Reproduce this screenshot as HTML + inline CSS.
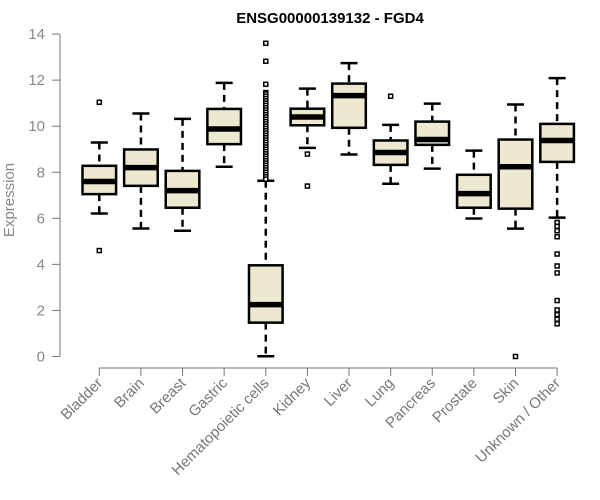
<!DOCTYPE html>
<html><head><meta charset="utf-8"><style>
body{margin:0;background:#fff;}
svg{display:block;font-family:"Liberation Sans",Arial,sans-serif;}
</style></head><body>
<svg id="chart" width="600" height="500">
<text x="330" y="23" text-anchor="middle" font-weight="bold" font-size="15" fill="#000">ENSG00000139132 - FGD4</text>
<text transform="translate(14,200) rotate(-90)" text-anchor="middle" font-size="15" fill="#888">Expression</text>
<g id="yaxis"></g>
<g id="xaxis"></g>
<g id="boxes"></g>
</svg>
<script>
const categories=["Bladder","Brain","Breast","Gastric","Hematopoietic cells","Kidney","Liver","Lung","Pancreas","Prostate","Skin","Unknown / Other"];
const whiskerLow=[6.21,5.56,5.46,8.24,0.01,9.06,8.77,7.5,8.16,5.99,5.55,6.03];
const q1=[7.05,7.41,6.46,9.22,1.47,10.04,9.93,8.32,9.19,6.46,6.42,8.45];
const medians=[7.6,8.2,7.2,9.88,2.25,10.4,11.33,8.86,9.42,7.07,8.24,9.38];
const q3=[8.28,8.99,8.06,10.75,3.96,10.76,11.85,9.38,10.2,7.89,9.42,10.1];
const whiskerHigh=[9.29,10.55,10.32,11.88,7.63,11.63,12.74,10.06,10.98,8.94,10.94,12.09];
const outliers=[[11.04,4.6],[],[],[],[13.6,12.82,11.82,11.46,11.4,11.3,11.2,11.1,11.0,10.9,10.8,10.7,10.6,10.5,10.4,10.3,10.2,10.1,10.0,9.9,9.8,9.7,9.6,9.5,9.4,9.3,9.2,9.1,9.0,8.9,8.8,8.7,8.6,8.5,8.4,8.3,8.2,8.1,8.0,7.9,7.8,7.7],[8.79,7.4],[],[11.3],[],[],[0],[5.82,5.65,5.46,5.2,4.45,3.93,3.63,2.43,2.02,1.82,1.62,1.42]];
const yTicks=[0,2,4,6,8,10,12,14];
const NS="http://www.w3.org/2000/svg";
const y=v=>356.5-v*23.03;
const x=i=>99.3+i*41.62;
function mk(tag,attrs,parent){const e=document.createElementNS(NS,tag);for(const k in attrs)e.setAttribute(k,attrs[k]);parent.appendChild(e);return e;}
const ya=document.getElementById('yaxis'),xa=document.getElementById('xaxis'),bx=document.getElementById('boxes');
mk('line',{x1:60,y1:y(14),x2:60,y2:y(0),stroke:'#777','stroke-width':1},ya);
yTicks.forEach(t=>{
 mk('line',{x1:52,y1:y(t),x2:60,y2:y(t),stroke:'#777'},ya);
 const tx=mk('text',{x:45,y:y(t)+5,'text-anchor':'end','font-size':15,fill:'#888'},ya);
 
 
 tx.textContent=t;
});
mk('line',{x1:x(0),y1:368,x2:x(11),y2:368,stroke:'#777'},xa);
categories.forEach((c,i)=>{
 mk('line',{x1:x(i),y1:368,x2:x(i),y2:376,stroke:'#777'},xa);
 const tx=mk('text',{transform:`translate(${x(i)+4},384) rotate(-45)`,'text-anchor':'end','font-size':15,fill:'#777'},xa);
 
 
 tx.textContent=c;
});
categories.forEach((c,i)=>{
 const g=mk('g',{},bx);
 
 
 const cx=x(i),hw=16.8;
 mk('line',{x1:cx,y1:y(whiskerHigh[i]),x2:cx,y2:y(q3[i]),stroke:'#000','stroke-width':2.5,'stroke-dasharray':'7,5'},g);
 mk('line',{x1:cx,y1:y(q1[i]),x2:cx,y2:y(whiskerLow[i]),stroke:'#000','stroke-width':2.5,'stroke-dasharray':'7,5'},g);
 mk('line',{x1:cx-8.5,y1:y(whiskerHigh[i]),x2:cx+8.5,y2:y(whiskerHigh[i]),stroke:'#000','stroke-width':2.5},g);
 mk('line',{x1:cx-8.5,y1:y(whiskerLow[i]),x2:cx+8.5,y2:y(whiskerLow[i]),stroke:'#000','stroke-width':2.5},g);
 mk('rect',{x:cx-hw,y:y(q3[i]),width:2*hw,height:y(q1[i])-y(q3[i]),fill:'#ede8d0',stroke:'#000','stroke-width':2.5},g);
 mk('line',{x1:cx-hw,y1:y(medians[i]),x2:cx+hw,y2:y(medians[i]),stroke:'#000','stroke-width':5.5},g);
 outliers[i].forEach(v=>{
  const o=mk('rect',{x:cx-2,y:y(v)-2,width:4,height:4,fill:'#fff',stroke:'#000','stroke-width':1.5},g);
  
  
 });
});
</script>
</body></html>
